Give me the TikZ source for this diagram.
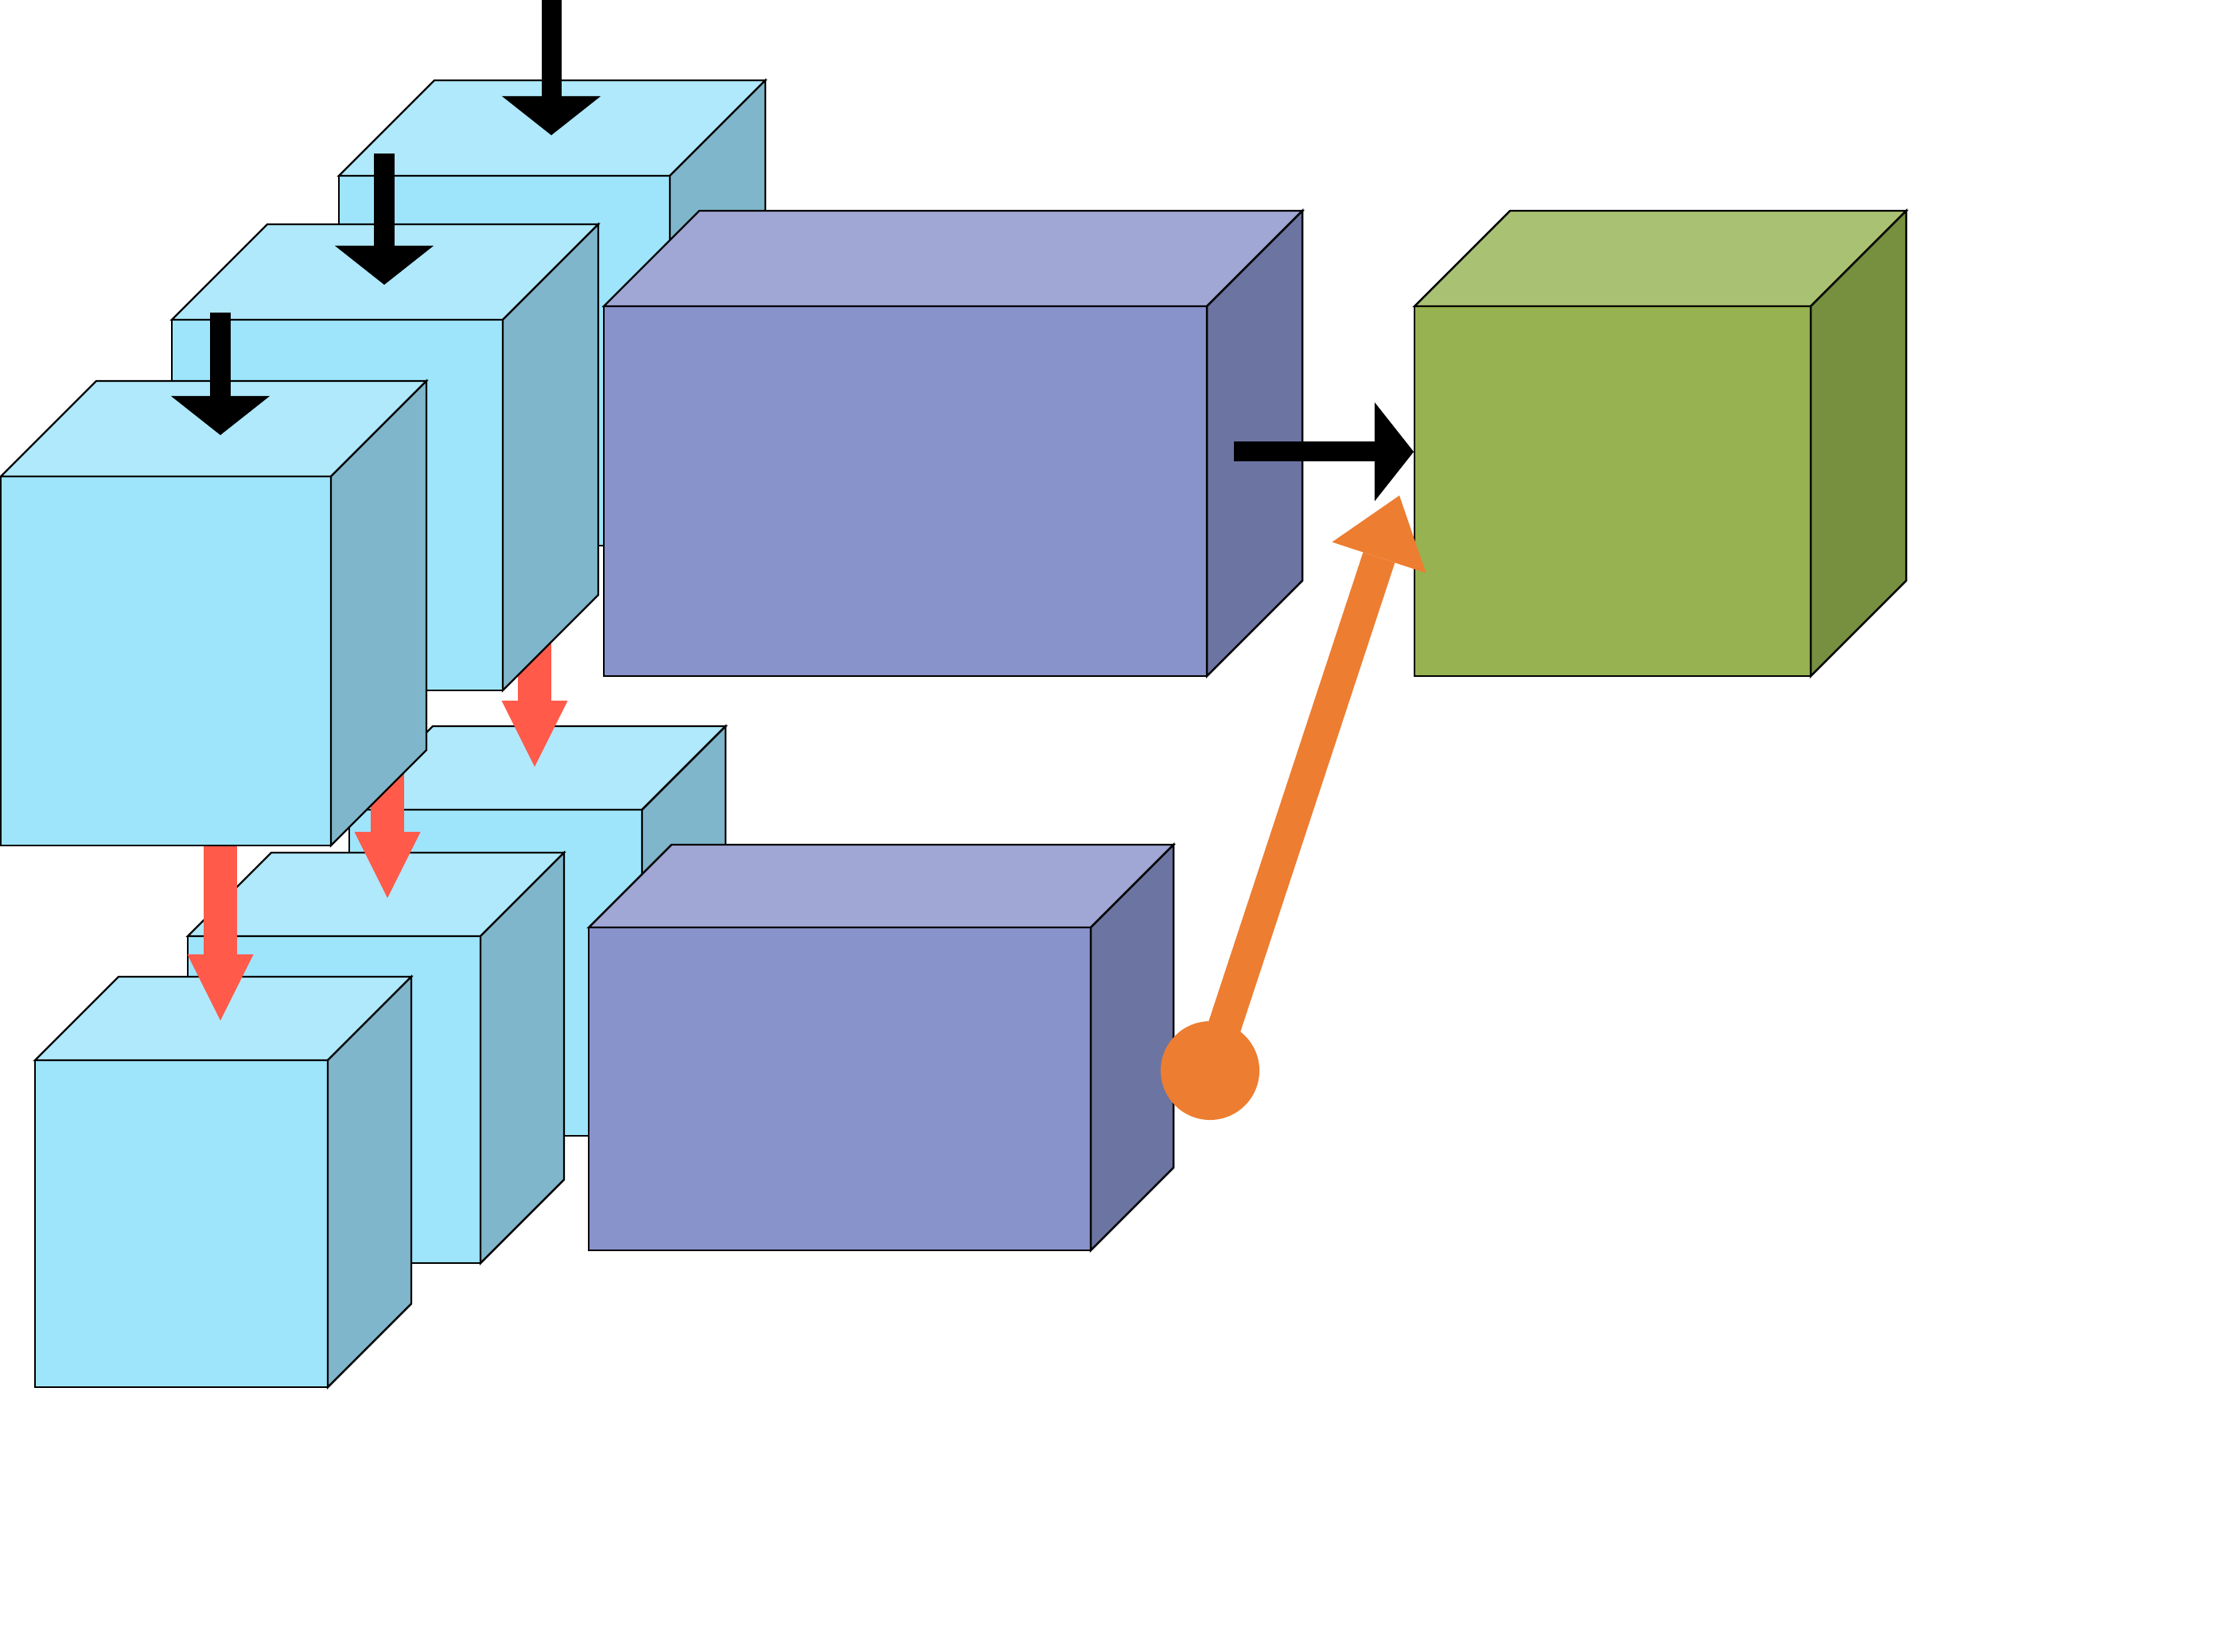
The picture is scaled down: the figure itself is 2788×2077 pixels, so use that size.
\documentclass[tikz,border=0pt]{standalone}
\usetikzlibrary{arrows.meta}
\definecolor{bfront}{HTML}{9EE5FC}
\definecolor{btop}{HTML}{AFE9FB}
\definecolor{bside}{HTML}{7FB6CB}
\definecolor{pfront}{HTML}{8892CB}
\definecolor{ptop}{HTML}{A0A7D5}
\definecolor{pside}{HTML}{6C74A2}
\definecolor{gfront}{HTML}{97B251}
\definecolor{gtop}{HTML}{A9C172}
\definecolor{gside}{HTML}{77903F}
\definecolor{redarrow}{HTML}{FF5A4A}
\definecolor{orangearrow}{HTML}{ED7D31}
\newcommand{\mycube}[7]{%
  \filldraw[fill=#7front, cubeline] (#2,#3) rectangle (#4,#5);
  \filldraw[fill=#7top, cubeline] (#2,#3) -- (#2+#6,#3-#6) -- (#4+#6,#3-#6) -- (#4,#3) -- cycle;
  \filldraw[fill=#7side, cubeline] (#4,#3) -- (#4+#6,#3-#6) -- (#4+#6,#5-#6) -- (#4,#5) -- cycle;
  \coordinate (#1) at ({(#2+#4)/2},{(#3+#5)/2});
}
\begin{document}
\begin{tikzpicture}[x=0.01cm, y=-0.01cm,
  cubeline/.style={draw=black, line width=0.7pt, line join=miter},
  blackarrow/.style={draw=black, line width=0.25cm, -{Triangle[width=1.24cm, length=0.49cm, line width=0pt]}},
  redblock/.style={draw=redarrow, fill=redarrow, line width=0.42cm, -{Triangle[width=0.83cm, length=0.83cm, line width=0pt]}},
  orangeblock/.style={draw=orangearrow, fill=orangearrow, line width=0.42cm, -{Triangle[width=1.24cm, length=0.82cm, line width=0pt]}},
  dotnode/.style={circle, fill=orangearrow, minimum size=1.24cm, inner sep=0pt}]
\useasboundingbox (0,0) rectangle (2788,2077);
% named arrow end points
\coordinate (a1s) at (693,0);    \coordinate (a1e) at (693,170);
\coordinate (a2s) at (483,193);  \coordinate (a2e) at (483,358);
\coordinate (a3s) at (277,393);  \coordinate (a3e) at (277,547);
\coordinate (hs) at (1551,568);  \coordinate (he) at (1777,568);
\coordinate (r1s) at (672,790);  \coordinate (r1e) at (672,964);
\coordinate (r2s) at (487,960);  \coordinate (r2e) at (487,1129);
\coordinate (r3s) at (277,1040); \coordinate (r3e) at (277,1283);
\coordinate (oe) at (1759,623);
% back cube and arrow
\mycube{b1}{426}{221}{842}{686}{120}{b}
\draw[blackarrow] (a1s) -- (a1e);
\mycube{b4}{439}{1018}{807}{1428}{105}{b}
\draw[redblock] (r1s) -- (r1e);
\mycube{b2}{216}{402}{632}{868}{120}{b}
\draw[blackarrow] (a2s) -- (a2e);
\mycube{b5}{236}{1177}{604}{1588}{105}{b}
\mycube{b6}{44}{1333}{412}{1744}{105}{b}
\draw[redblock] (r2s) -- (r2e);
\draw[redblock] (r3s) -- (r3e);
\mycube{b3}{1}{599}{416}{1063}{120}{b}
\draw[blackarrow] (a3s) -- (a3e);
\mycube{p1}{759}{385}{1517}{850}{120}{p}
\mycube{p2}{740}{1166}{1371}{1572}{104}{p}
\mycube{g1}{1778}{385}{2276}{850}{120}{g}
\draw[blackarrow] (hs) -- (he);
\node[dotnode] (od) at (1521,1346) {};
\draw[orangeblock] (od.center) -- (oe);
\end{tikzpicture}
\end{document}
